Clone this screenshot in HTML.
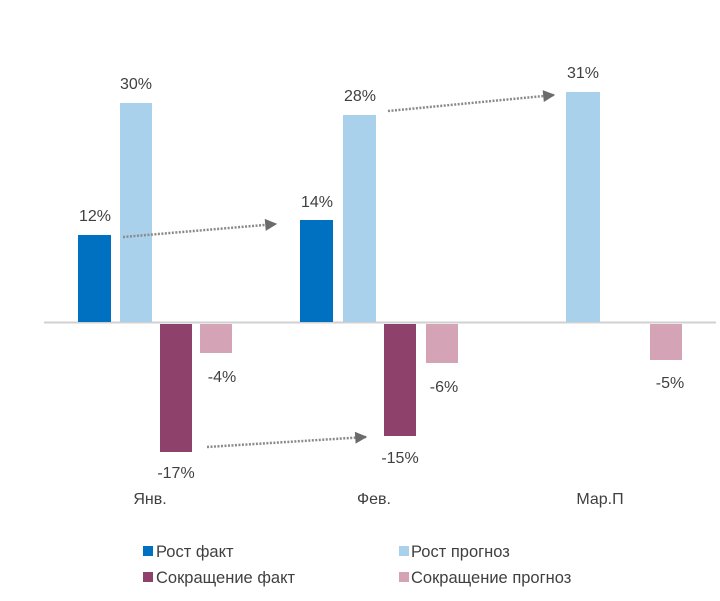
<!DOCTYPE html>
<html><head><meta charset="utf-8"><style>body{margin:0;background:#fff}svg{display:block}text{font-family:"Liberation Sans",sans-serif;fill:#404040}</style></head><body>
<svg width="720" height="601" viewBox="0 0 720 601">
<defs>
<marker id="m" viewBox="0 0 10 10" refX="9" refY="5" markerWidth="14" markerHeight="12" orient="auto" markerUnits="userSpaceOnUse"><path d="M0,0 L10,5 L0,10z" fill="#6b6b6b"/></marker></defs>
<line x1="44" y1="322.5" x2="716" y2="322.5" stroke="#d0d0d0" stroke-width="2"/>
<rect x="78" y="235" width="33" height="87" fill="#0070c0"/>
<rect x="120" y="103" width="32" height="219" fill="#a9d1ec"/>
<rect x="160" y="324" width="32" height="128" fill="#8e426b"/>
<rect x="200" y="324" width="32" height="29" fill="#d4a3b6"/>
<rect x="300" y="220" width="33" height="102" fill="#0070c0"/>
<rect x="343" y="115" width="33" height="207" fill="#a9d1ec"/>
<rect x="384" y="324" width="32" height="112" fill="#8e426b"/>
<rect x="426" y="324" width="32" height="39" fill="#d4a3b6"/>
<rect x="566" y="92" width="34" height="230" fill="#a9d1ec"/>
<rect x="650" y="324" width="32" height="36" fill="#d4a3b6"/>
<g stroke="#8a8a8a" stroke-width="2.5" stroke-dasharray="2,1.5" fill="none">
<line x1="123" y1="237" x2="276" y2="224" marker-end="url(#m)"/>
<line x1="207" y1="447" x2="366" y2="437" marker-end="url(#m)"/>
<line x1="388" y1="111" x2="554" y2="95" marker-end="url(#m)"/>
</g>
<g font-size="16" text-anchor="middle">
<text x="95" y="221">12%</text><text x="136" y="89">30%</text>
<text x="176" y="478">-17%</text><text x="222" y="382">-4%</text>
<text x="317" y="207">14%</text><text x="360" y="101">28%</text>
<text x="400" y="463">-15%</text><text x="444" y="392">-6%</text>
<text x="583" y="78">31%</text><text x="670" y="388">-5%</text>
<text x="150" y="504">Янв.</text><text x="374" y="504">Фев.</text><text x="600" y="504">Мар.П</text>
</g>
<g font-size="16.5">
<rect x="143" y="546" width="10" height="10" fill="#0070c0"/><text x="156" y="557">Рост факт</text>
<rect x="399" y="546" width="10" height="10" fill="#a9d1ec"/><text x="411" y="557">Рост прогноз</text>
<rect x="143" y="572" width="10" height="10" fill="#8e426b"/><text x="156" y="583">Сокращение факт</text>
<rect x="399" y="572" width="10" height="10" fill="#d4a3b6"/><text x="411" y="583">Сокращение прогноз</text>
</g>
</svg>
</body></html>
